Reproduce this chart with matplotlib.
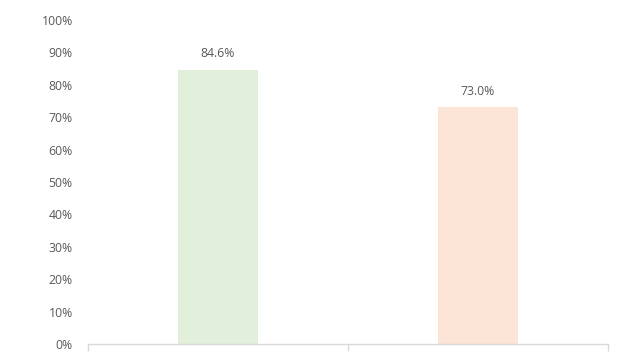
import matplotlib
matplotlib.use("Agg")
import matplotlib.pyplot as plt
from matplotlib.ticker import FuncFormatter, FixedLocator

categories = ["A", "B"]
values = [0.846, 0.730]
colors = ["#e2efda", "#fce4d6"]
yticks = [0, 0.1, 0.2, 0.3, 0.4, 0.5, 0.6, 0.7, 0.8, 0.9, 1.0]

plt.rcParams['font.family'] = ['Open Sans', 'DejaVu Sans']
fig = plt.figure(figsize=(6.25, 3.53), dpi=100)
ax = fig.add_axes([88/625, 1-344/353, (608-88)/625, (344-20)/353])

x = list(range(len(categories)))
bars = ax.bar(x, values, width=0.31, color=colors)
for xi, v in zip(x, values):
    ax.text(xi, v + 0.03, f"{v*100:.1f}%", ha="center", va="bottom",
            fontsize=8.8, color="#595959")

ax.set_xlim(-0.5, 1.5)
ax.set_ylim(0, 1.0)
ax.set_yticks(yticks)
ax.yaxis.set_major_formatter(FuncFormatter(lambda v, p: f"{v*100:.0f}%"))
ax.xaxis.set_major_locator(FixedLocator([-0.5, 0.5, 1.5]))
ax.set_xticklabels([])
ax.tick_params(axis="y", length=0, labelsize=8.8, labelcolor="#595959", pad=11)
ax.tick_params(axis="x", length=5, color="#d9d9d9", width=1)
for s in ["top", "right", "left"]:
    ax.spines[s].set_visible(False)
ax.spines["bottom"].set_color("#d9d9d9")
ax.spines["bottom"].set_linewidth(1)

fig.savefig("out.png", dpi=100)
